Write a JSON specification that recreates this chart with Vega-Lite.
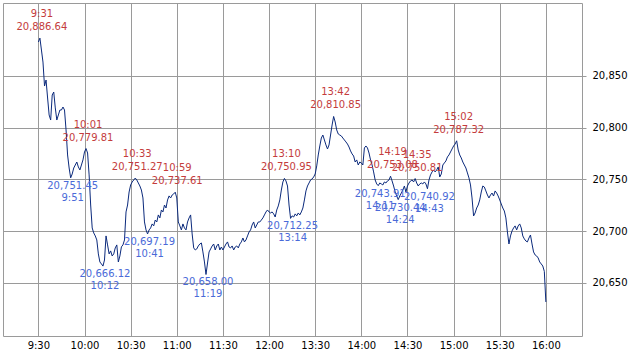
{
  "$schema": "https://vega.github.io/schema/vega-lite/v6.json",
  "width": 579,
  "height": 333,
  "autosize": {"type": "none"},
  "padding": {"left": 3, "top": 3, "right": 49, "bottom": 17},
  "background": "#ffffff",
  "config": {"view": {"stroke": "#9a9a9a", "strokeWidth": 1}, "font": "DejaVu Sans"},
  "datasets": {
    "series": [
      {"minute":0,"price":20882.9},{"minute":1,"price":20886.64},{"minute":2,"price":20875.1},{"minute":3,"price":20863.5},{"minute":4,"price":20840.3},{"minute":5,"price":20846.1},{"minute":6,"price":20828.7},{"minute":7,"price":20812.3},{"minute":8,"price":20807.4},{"minute":9,"price":20831.6},
      {"minute":10,"price":20834.5},{"minute":11,"price":20819.1},{"minute":12,"price":20807.4},{"minute":13,"price":20812.3},{"minute":14,"price":20817.1},{"minute":15,"price":20817.1},{"minute":16,"price":20820.0},{"minute":17,"price":20817.1},{"minute":18,"price":20797.8},{"minute":19,"price":20773.6},
      {"minute":20,"price":20761.0},{"minute":21,"price":20751.45},{"minute":22,"price":20755.2},{"minute":23,"price":20761.0},{"minute":24,"price":20763.9},{"minute":25,"price":20766.8},{"minute":26,"price":20762.0},{"minute":27,"price":20759.1},{"minute":28,"price":20763.9},{"minute":29,"price":20768.8},
      {"minute":30,"price":20776.5},{"minute":31,"price":20779.81},{"minute":32,"price":20775.5},{"minute":33,"price":20754.3},{"minute":34,"price":20725.2},{"minute":35,"price":20703.0},{"minute":36,"price":20698.2},{"minute":37,"price":20695.3},{"minute":38,"price":20691.4},{"minute":39,"price":20677.9},
      {"minute":40,"price":20670.1},{"minute":41,"price":20668.2},{"minute":42,"price":20666.12},{"minute":43,"price":20672.0},{"minute":44,"price":20695.3},{"minute":45,"price":20686.6},{"minute":46,"price":20677.9},{"minute":47,"price":20680.8},{"minute":48,"price":20675.9},{"minute":49,"price":20677.9},
      {"minute":50,"price":20683.7},{"minute":51,"price":20686.6},{"minute":52,"price":20670.1},{"minute":53,"price":20675.9},{"minute":54,"price":20684.7},{"minute":55,"price":20686.6},{"minute":56,"price":20691.4},{"minute":57,"price":20718.5},{"minute":58,"price":20725.2},{"minute":59,"price":20737.8},
      {"minute":60,"price":20744.6},{"minute":61,"price":20747.5},{"minute":62,"price":20749.4},{"minute":63,"price":20751.27},{"minute":64,"price":20749.4},{"minute":65,"price":20746.5},{"minute":66,"price":20743.6},{"minute":67,"price":20739.7},{"minute":68,"price":20732.0},{"minute":69,"price":20708.8},
      {"minute":70,"price":20701.1},{"minute":71,"price":20697.19},{"minute":72,"price":20701.1},{"minute":73,"price":20703.0},{"minute":74,"price":20706.9},{"minute":75,"price":20705.0},{"minute":76,"price":20710.7},{"minute":77,"price":20708.8},{"minute":78,"price":20715.6},{"minute":79,"price":20712.7},
      {"minute":80,"price":20720.4},{"minute":81,"price":20718.5},{"minute":82,"price":20725.2},{"minute":83,"price":20722.3},{"minute":84,"price":20730.1},{"minute":85,"price":20734.0},{"minute":86,"price":20732.0},{"minute":87,"price":20734.9},{"minute":88,"price":20735.9},{"minute":89,"price":20737.61},
      {"minute":90,"price":20732.0},{"minute":91,"price":20708.8},{"minute":92,"price":20705.0},{"minute":93,"price":20701.1},{"minute":94,"price":20706.9},{"minute":95,"price":20703.0},{"minute":96,"price":20701.1},{"minute":97,"price":20708.8},{"minute":98,"price":20712.7},{"minute":99,"price":20715.6},
      {"minute":100,"price":20697.2},{"minute":101,"price":20683.7},{"minute":102,"price":20681.7},{"minute":103,"price":20682.7},{"minute":104,"price":20685.6},{"minute":105,"price":20687.5},{"minute":106,"price":20688.5},{"minute":107,"price":20679.8},{"minute":108,"price":20670.1},{"minute":109,"price":20658.0},
      {"minute":110,"price":20669.1},{"minute":111,"price":20679.8},{"minute":112,"price":20682.7},{"minute":113,"price":20685.6},{"minute":114,"price":20687.5},{"minute":115,"price":20681.7},{"minute":116,"price":20685.6},{"minute":117,"price":20687.5},{"minute":118,"price":20681.7},{"minute":119,"price":20684.6},
      {"minute":120,"price":20681.7},{"minute":121,"price":20684.6},{"minute":122,"price":20687.5},{"minute":123,"price":20689.5},{"minute":124,"price":20684.6},{"minute":125,"price":20683.7},{"minute":126,"price":20685.6},{"minute":127,"price":20681.7},{"minute":128,"price":20684.6},{"minute":129,"price":20685.6},
      {"minute":130,"price":20683.7},{"minute":131,"price":20687.5},{"minute":132,"price":20689.5},{"minute":133,"price":20693.3},{"minute":134,"price":20689.5},{"minute":135,"price":20691.4},{"minute":136,"price":20695.3},{"minute":137,"price":20699.1},{"minute":138,"price":20701.1},{"minute":139,"price":20705.9},
      {"minute":140,"price":20708.8},{"minute":141,"price":20703.0},{"minute":142,"price":20705.9},{"minute":143,"price":20708.8},{"minute":144,"price":20708.8},{"minute":145,"price":20710.7},{"minute":146,"price":20712.7},{"minute":147,"price":20715.6},{"minute":148,"price":20718.5},{"minute":149,"price":20720.4},
      {"minute":150,"price":20718.5},{"minute":151,"price":20717.5},{"minute":152,"price":20718.5},{"minute":153,"price":20716.6},{"minute":154,"price":20713.6},{"minute":155,"price":20720.4},{"minute":156,"price":20724.3},{"minute":157,"price":20730.1},{"minute":158,"price":20739.7},{"minute":159,"price":20747.5},
      {"minute":160,"price":20750.95},{"minute":161,"price":20748.5},{"minute":162,"price":20743.6},{"minute":163,"price":20725.2},{"minute":164,"price":20712.25},{"minute":165,"price":20714.7},{"minute":166,"price":20713.6},{"minute":167,"price":20716.6},{"minute":168,"price":20714.7},{"minute":169,"price":20717.5},
      {"minute":170,"price":20715.6},{"minute":171,"price":20718.5},{"minute":172,"price":20722.3},{"minute":173,"price":20730.1},{"minute":174,"price":20738.8},{"minute":175,"price":20743.6},{"minute":176,"price":20746.5},{"minute":177,"price":20749.4},{"minute":178,"price":20750.4},{"minute":179,"price":20752.3},
      {"minute":180,"price":20755.2},{"minute":181,"price":20763.0},{"minute":182,"price":20773.6},{"minute":183,"price":20782.3},{"minute":184,"price":20790.0},{"minute":185,"price":20792.9},{"minute":186,"price":20788.1},{"minute":187,"price":20783.3},{"minute":188,"price":20779.4},{"minute":189,"price":20783.3},
      {"minute":190,"price":20792.9},{"minute":191,"price":20802.6},{"minute":192,"price":20810.85},{"minute":193,"price":20805.5},{"minute":194,"price":20797.8},{"minute":195,"price":20793.9},{"minute":196,"price":20792.9},{"minute":197,"price":20792.0},{"minute":198,"price":20790.0},{"minute":199,"price":20788.1},
      {"minute":200,"price":20786.2},{"minute":201,"price":20784.2},{"minute":202,"price":20781.3},{"minute":203,"price":20777.5},{"minute":204,"price":20774.6},{"minute":205,"price":20772.6},{"minute":206,"price":20766.8},{"minute":207,"price":20768.8},{"minute":208,"price":20763.9},{"minute":209,"price":20766.8},
      {"minute":210,"price":20765.9},{"minute":211,"price":20763.9},{"minute":212,"price":20780.4},{"minute":213,"price":20782.3},{"minute":214,"price":20780.4},{"minute":215,"price":20775.5},{"minute":216,"price":20768.8},{"minute":217,"price":20763.9},{"minute":218,"price":20757.2},{"minute":219,"price":20749.4},
      {"minute":220,"price":20745.6},{"minute":221,"price":20743.91},{"minute":222,"price":20746.5},{"minute":223,"price":20745.6},{"minute":224,"price":20744.6},{"minute":225,"price":20747.5},{"minute":226,"price":20746.5},{"minute":227,"price":20748.5},{"minute":228,"price":20749.4},{"minute":229,"price":20753.08},
      {"minute":230,"price":20748.5},{"minute":231,"price":20743.6},{"minute":232,"price":20737.8},{"minute":233,"price":20733.9},{"minute":234,"price":20730.44},{"minute":235,"price":20733.9},{"minute":236,"price":20736.8},{"minute":237,"price":20739.7},{"minute":238,"price":20743.6},{"minute":239,"price":20737.8},
      {"minute":240,"price":20743.6},{"minute":241,"price":20746.5},{"minute":242,"price":20748.5},{"minute":243,"price":20749.4},{"minute":244,"price":20747.5},{"minute":245,"price":20750.81},{"minute":246,"price":20746.5},{"minute":247,"price":20743.6},{"minute":248,"price":20745.6},{"minute":249,"price":20746.5},
      {"minute":250,"price":20745.6},{"minute":251,"price":20747.5},{"minute":252,"price":20745.6},{"minute":253,"price":20740.92},{"minute":254,"price":20749.4},{"minute":255,"price":20754.3},{"minute":256,"price":20757.2},{"minute":257,"price":20759.1},{"minute":258,"price":20757.2},{"minute":259,"price":20759.1},
      {"minute":260,"price":20762.0},{"minute":261,"price":20752.3},{"minute":262,"price":20755.2},{"minute":263,"price":20763.9},{"minute":264,"price":20765.9},{"minute":265,"price":20767.8},{"minute":266,"price":20771.7},{"minute":267,"price":20773.6},{"minute":268,"price":20776.5},{"minute":269,"price":20779.4},
      {"minute":270,"price":20782.3},{"minute":271,"price":20784.2},{"minute":272,"price":20787.32},{"minute":273,"price":20778.4},{"minute":274,"price":20773.6},{"minute":275,"price":20770.7},{"minute":276,"price":20766.8},{"minute":277,"price":20763.9},{"minute":278,"price":20761.0},{"minute":279,"price":20756.2},
      {"minute":280,"price":20751.4},{"minute":281,"price":20744.6},{"minute":282,"price":20732.0},{"minute":283,"price":20714.6},{"minute":284,"price":20717.5},{"minute":285,"price":20722.3},{"minute":286,"price":20725.2},{"minute":287,"price":20730.1},{"minute":288,"price":20737.8},{"minute":289,"price":20743.6},
      {"minute":290,"price":20742.6},{"minute":291,"price":20738.8},{"minute":292,"price":20734.9},{"minute":293,"price":20732.0},{"minute":294,"price":20734.9},{"minute":295,"price":20736.8},{"minute":296,"price":20733.9},{"minute":297,"price":20738.8},{"minute":298,"price":20736.8},{"minute":299,"price":20733.9},
      {"minute":300,"price":20730.1},{"minute":301,"price":20726.2},{"minute":302,"price":20722.3},{"minute":303,"price":20719.4},{"minute":304,"price":20712.7},{"minute":305,"price":20699.1},{"minute":306,"price":20687.5},{"minute":307,"price":20695.3},{"minute":308,"price":20700.1},{"minute":309,"price":20703.0},
      {"minute":310,"price":20705.0},{"minute":311,"price":20701.1},{"minute":312,"price":20705.0},{"minute":313,"price":20706.9},{"minute":314,"price":20703.0},{"minute":315,"price":20695.3},{"minute":316,"price":20692.4},{"minute":317,"price":20690.4},{"minute":318,"price":20689.5},{"minute":319,"price":20693.3},
      {"minute":320,"price":20696.2},{"minute":321,"price":20687.5},{"minute":322,"price":20679.8},{"minute":323,"price":20676.9},{"minute":324,"price":20675.9},{"minute":325,"price":20674.0},{"minute":326,"price":20670.1},{"minute":327,"price":20668.2},{"minute":328,"price":20666.2},{"minute":329,"price":20661.0},
      {"minute":330,"price":20631.4}
    ],
    "highs": [
      {"t":"9:31","minute":1,"price":20886.64},
      {"t":"10:01","minute":31,"price":20779.81},
      {"t":"10:33","minute":63,"price":20751.27},
      {"t":"10:59","minute":89,"price":20737.61},
      {"t":"13:10","minute":160,"price":20750.95},
      {"t":"13:42","minute":192,"price":20810.85},
      {"t":"14:19","minute":229,"price":20753.08},
      {"t":"14:35","minute":245,"price":20750.81},
      {"t":"15:02","minute":272,"price":20787.32}
    ],
    "lows": [
      {"t":"9:51","minute":21,"price":20751.45},
      {"t":"10:12","minute":42,"price":20666.12},
      {"t":"10:41","minute":71,"price":20697.19},
      {"t":"11:19","minute":109,"price":20658.00},
      {"t":"13:14","minute":164,"price":20712.25},
      {"t":"14:11","minute":221,"price":20743.91},
      {"t":"14:24","minute":234,"price":20730.44},
      {"t":"14:43","minute":253,"price":20740.92}
    ]
  },
  "encoding": {
    "x": {
      "field": "minute", "type": "quantitative",
      "scale": {"domain": [-23, 353.5], "nice": false, "zero": false},
      "axis": {
        "title": null, "values": [0,30,60,90,120,150,180,210,240,270,300,330],
        "labelExpr": "['9:30','10:00','10:30','11:00','11:30','12:00','13:30','14:00','14:30','15:00','15:30','16:00'][round(datum.value/30)]",
        "grid": true, "gridColor": "#9a9a9a", "gridOpacity": 1, "gridWidth": 1,
        "ticks": false, "domain": false, "labelPadding": 4,
        "labelFont": "DejaVu Sans", "labelFontSize": 10, "labelColor": "#000000"
      }
    },
    "y": {
      "field": "price", "type": "quantitative",
      "scale": {"domain": [20598.5, 20920.6], "nice": false, "zero": false},
      "axis": {
        "title": null, "orient": "right", "values": [20650,20700,20750,20800,20850], "format": ",.0f",
        "grid": true, "gridColor": "#9a9a9a", "gridOpacity": 1, "gridWidth": 1,
        "ticks": true, "tickSize": 4, "tickColor": "#9a9a9a", "domain": false, "labelPadding": 6,
        "labelFont": "DejaVu Sans", "labelFontSize": 10, "labelColor": "#000000"
      }
    }
  },
  "layer": [
    {
      "data": {"name": "series"},
      "mark": {"type": "line", "color": "#0b2a7c", "strokeWidth": 1}
    },
    {
      "data": {"name": "highs"},
      "mark": {"type": "text", "font": "DejaVu Sans", "fontSize": 10, "color": "#c43c3c", "dx": 2, "dy": -24, "baseline": "middle", "align": "center"},
      "encoding": {"text": {"field": "t", "type": "nominal"}}
    },
    {
      "data": {"name": "highs"},
      "mark": {"type": "text", "font": "DejaVu Sans", "fontSize": 10, "color": "#c43c3c", "dx": 2, "dy": -11, "baseline": "middle", "align": "center"},
      "encoding": {"text": {"field": "price", "type": "quantitative", "format": ",.2f"}}
    },
    {
      "data": {"name": "lows"},
      "mark": {"type": "text", "font": "DejaVu Sans", "fontSize": 10, "color": "#4a6ad8", "dx": 2, "dy": 8, "baseline": "middle", "align": "center"},
      "encoding": {"text": {"field": "price", "type": "quantitative", "format": ",.2f"}}
    },
    {
      "data": {"name": "lows"},
      "mark": {"type": "text", "font": "DejaVu Sans", "fontSize": 10, "color": "#4a6ad8", "dx": 2, "dy": 20, "baseline": "middle", "align": "center"},
      "encoding": {"text": {"field": "t", "type": "nominal"}}
    }
  ]
}
